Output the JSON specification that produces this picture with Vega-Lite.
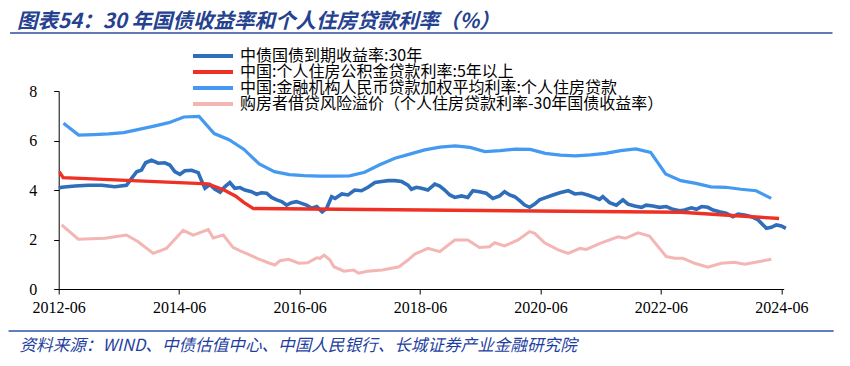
{
  "$schema": "https://vega.github.io/schema/vega-lite/v6.json",
  "width": 725,
  "height": 198,
  "autosize": "none",
  "padding": {"left": 58.7, "top": 91, "right": 66.3, "bottom": 77},
  "background": "white",
  "title": {
    "text": "图表54：30 年国债收益率和个人住房贷款利率（%）",
    "anchor": "start",
    "frame": "group",
    "orient": "top",
    "font": "Noto Sans CJK SC",
    "fontSize": 20.5,
    "fontWeight": "bold",
    "fontStyle": "italic",
    "color": "#25418F",
    "dx": -41.7,
    "offset": 0
  },
  "datasets": {
    "names": [
      {"k": "a", "name": "中债国债到期收益率:30年"},
      {"k": "b", "name": "中国:个人住房公积金贷款利率:5年以上"},
      {"k": "c", "name": "中国:金融机构人民币贷款加权平均利率:个人住房贷款"},
      {"k": "d", "name": "购房者借贷风险溢价（个人住房贷款利率-30年国债收益率）"}
    ],
    "rates": [
      {"k":"a","d":"2012-06-01","v":4.08},{"k":"a","d":"2012-06-19","v":4.11},{"k":"a","d":"2012-09-08","v":4.16},{"k":"a","d":"2012-11-28","v":4.19},
      {"k":"a","d":"2013-02-18","v":4.19},{"k":"a","d":"2013-05-07","v":4.13},{"k":"a","d":"2013-07-17","v":4.19},{"k":"a","d":"2013-08-17","v":4.47},
      {"k":"a","d":"2013-09-17","v":4.74},{"k":"a","d":"2013-10-16","v":4.81},{"k":"a","d":"2013-11-10","v":5.10},{"k":"a","d":"2013-12-16","v":5.20},
      {"k":"a","d":"2014-01-26","v":5.08},{"k":"a","d":"2014-03-06","v":5.10},{"k":"a","d":"2014-04-06","v":5.01},{"k":"a","d":"2014-05-06","v":4.74},
      {"k":"a","d":"2014-06-06","v":4.63},{"k":"a","d":"2014-07-06","v":4.78},{"k":"a","d":"2014-08-16","v":4.80},{"k":"a","d":"2014-09-25","v":4.70},
      {"k":"a","d":"2014-10-15","v":4.38},{"k":"a","d":"2014-11-05","v":4.07},{"k":"a","d":"2014-12-05","v":4.22},{"k":"a","d":"2015-01-05","v":4.03},
      {"k":"a","d":"2015-02-05","v":3.91},{"k":"a","d":"2015-03-05","v":4.13},{"k":"a","d":"2015-04-05","v":4.30},{"k":"a","d":"2015-05-05","v":4.07},
      {"k":"a","d":"2015-06-05","v":4.10},{"k":"a","d":"2015-07-05","v":4.00},{"k":"a","d":"2015-08-14","v":3.93},{"k":"a","d":"2015-09-14","v":3.83},
      {"k":"a","d":"2015-10-14","v":3.89},{"k":"a","d":"2015-11-14","v":3.87},{"k":"a","d":"2015-12-14","v":3.70},{"k":"a","d":"2016-01-14","v":3.60},
      {"k":"a","d":"2016-02-13","v":3.53},{"k":"a","d":"2016-03-14","v":3.39},{"k":"a","d":"2016-04-13","v":3.49},{"k":"a","d":"2016-05-13","v":3.53},
      {"k":"a","d":"2016-06-13","v":3.46},{"k":"a","d":"2016-07-13","v":3.39},{"k":"a","d":"2016-08-13","v":3.26},{"k":"a","d":"2016-09-13","v":3.33},
      {"k":"a","d":"2016-10-16","v":3.12},{"k":"a","d":"2016-11-12","v":3.26},{"k":"a","d":"2016-12-12","v":3.73},{"k":"a","d":"2017-01-02","v":3.66},
      {"k":"a","d":"2017-02-12","v":3.84},{"k":"a","d":"2017-03-22","v":3.80},{"k":"a","d":"2017-05-01","v":4.00},{"k":"a","d":"2017-06-11","v":3.97},
      {"k":"a","d":"2017-07-21","v":4.11},{"k":"a","d":"2017-09-01","v":4.30},{"k":"a","d":"2017-10-11","v":4.34},{"k":"a","d":"2017-11-20","v":4.38},
      {"k":"a","d":"2017-12-31","v":4.38},{"k":"a","d":"2018-02-10","v":4.34},{"k":"a","d":"2018-03-20","v":4.20},{"k":"a","d":"2018-04-10","v":4.03},
      {"k":"a","d":"2018-05-10","v":4.11},{"k":"a","d":"2018-06-10","v":4.07},{"k":"a","d":"2018-07-19","v":4.00},{"k":"a","d":"2018-08-30","v":4.24},
      {"k":"a","d":"2018-09-29","v":4.16},{"k":"a","d":"2018-10-29","v":4.00},{"k":"a","d":"2018-11-29","v":3.80},{"k":"a","d":"2018-12-29","v":3.70},
      {"k":"a","d":"2019-02-08","v":3.76},{"k":"a","d":"2019-03-18","v":3.70},{"k":"a","d":"2019-04-18","v":3.97},{"k":"a","d":"2019-05-28","v":3.93},
      {"k":"a","d":"2019-07-08","v":3.87},{"k":"a","d":"2019-08-17","v":3.66},{"k":"a","d":"2019-09-27","v":3.76},{"k":"a","d":"2019-10-27","v":3.93},
      {"k":"a","d":"2019-11-27","v":3.80},{"k":"a","d":"2019-12-27","v":3.73},{"k":"a","d":"2020-01-27","v":3.57},{"k":"a","d":"2020-02-26","v":3.39},
      {"k":"a","d":"2020-03-27","v":3.30},{"k":"a","d":"2020-04-27","v":3.43},{"k":"a","d":"2020-05-26","v":3.60},{"k":"a","d":"2020-07-06","v":3.70},
      {"k":"a","d":"2020-08-16","v":3.80},{"k":"a","d":"2020-09-26","v":3.89},{"k":"a","d":"2020-11-16","v":3.97},{"k":"a","d":"2020-12-26","v":3.84},
      {"k":"a","d":"2021-02-05","v":3.87},{"k":"a","d":"2021-03-15","v":3.80},{"k":"a","d":"2021-04-25","v":3.70},{"k":"a","d":"2021-05-25","v":3.62},
      {"k":"a","d":"2021-06-14","v":3.73},{"k":"a","d":"2021-07-25","v":3.49},{"k":"a","d":"2021-09-04","v":3.39},{"k":"a","d":"2021-10-14","v":3.60},
      {"k":"a","d":"2021-11-14","v":3.43},{"k":"a","d":"2021-12-24","v":3.35},{"k":"a","d":"2022-02-04","v":3.30},{"k":"a","d":"2022-03-04","v":3.39},
      {"k":"a","d":"2022-04-14","v":3.35},{"k":"a","d":"2022-05-24","v":3.30},{"k":"a","d":"2022-07-04","v":3.33},{"k":"a","d":"2022-08-13","v":3.22},
      {"k":"a","d":"2022-09-23","v":3.16},{"k":"a","d":"2022-10-23","v":3.19},{"k":"a","d":"2022-12-03","v":3.28},{"k":"a","d":"2023-01-03","v":3.22},
      {"k":"a","d":"2023-02-03","v":3.33},{"k":"a","d":"2023-03-13","v":3.30},{"k":"a","d":"2023-04-13","v":3.19},{"k":"a","d":"2023-05-22","v":3.12},
      {"k":"a","d":"2023-07-02","v":3.06},{"k":"a","d":"2023-08-12","v":2.92},{"k":"a","d":"2023-09-12","v":3.03},{"k":"a","d":"2023-10-22","v":2.99},
      {"k":"a","d":"2023-12-02","v":2.92},{"k":"a","d":"2024-01-12","v":2.79},{"k":"a","d":"2024-02-11","v":2.59},{"k":"a","d":"2024-03-02","v":2.45},
      {"k":"a","d":"2024-04-01","v":2.49},{"k":"a","d":"2024-05-01","v":2.59},{"k":"a","d":"2024-06-01","v":2.55},{"k":"a","d":"2024-06-28","v":2.45},

      {"k":"b","d":"2012-06-01","v":4.70},{"k":"b","d":"2012-06-08","v":4.70},{"k":"b","d":"2012-06-28","v":4.50},{"k":"b","d":"2014-11-22","v":4.25},
      {"k":"b","d":"2015-03-01","v":4.00},{"k":"b","d":"2015-05-11","v":3.75},{"k":"b","d":"2015-06-28","v":3.50},{"k":"b","d":"2015-08-26","v":3.25},
      {"k":"b","d":"2022-10-01","v":3.10},{"k":"b","d":"2024-05-18","v":2.85},

      {"k":"c","d":"2012-06-30","v":6.70},{"k":"c","d":"2012-09-30","v":6.22},{"k":"c","d":"2012-12-31","v":6.24},{"k":"c","d":"2013-03-31","v":6.27},
      {"k":"c","d":"2013-06-30","v":6.32},{"k":"c","d":"2013-09-30","v":6.45},{"k":"c","d":"2013-12-31","v":6.58},{"k":"c","d":"2014-03-31","v":6.72},
      {"k":"c","d":"2014-06-30","v":6.95},{"k":"c","d":"2014-09-30","v":6.97},{"k":"c","d":"2014-12-31","v":6.28},{"k":"c","d":"2015-03-31","v":6.03},
      {"k":"c","d":"2015-06-30","v":5.64},{"k":"c","d":"2015-09-30","v":5.05},{"k":"c","d":"2015-12-31","v":4.74},{"k":"c","d":"2016-03-31","v":4.62},
      {"k":"c","d":"2016-06-30","v":4.58},{"k":"c","d":"2016-09-30","v":4.56},{"k":"c","d":"2016-12-31","v":4.56},{"k":"c","d":"2017-03-31","v":4.57},
      {"k":"c","d":"2017-06-30","v":4.72},{"k":"c","d":"2017-09-30","v":5.02},{"k":"c","d":"2017-12-31","v":5.28},{"k":"c","d":"2018-03-31","v":5.45},
      {"k":"c","d":"2018-06-30","v":5.62},{"k":"c","d":"2018-09-30","v":5.73},{"k":"c","d":"2018-12-31","v":5.78},{"k":"c","d":"2019-03-31","v":5.72},
      {"k":"c","d":"2019-06-30","v":5.55},{"k":"c","d":"2019-09-30","v":5.59},{"k":"c","d":"2019-12-31","v":5.65},{"k":"c","d":"2020-03-31","v":5.64},
      {"k":"c","d":"2020-06-30","v":5.48},{"k":"c","d":"2020-09-30","v":5.41},{"k":"c","d":"2020-12-31","v":5.38},{"k":"c","d":"2021-03-31","v":5.42},
      {"k":"c","d":"2021-06-30","v":5.48},{"k":"c","d":"2021-09-30","v":5.59},{"k":"c","d":"2021-12-31","v":5.66},{"k":"c","d":"2022-03-31","v":5.52},
      {"k":"c","d":"2022-06-30","v":4.65},{"k":"c","d":"2022-09-30","v":4.38},{"k":"c","d":"2022-12-31","v":4.27},{"k":"c","d":"2023-03-31","v":4.13},
      {"k":"c","d":"2023-06-30","v":4.11},{"k":"c","d":"2023-09-30","v":4.03},{"k":"c","d":"2023-12-31","v":3.97},{"k":"c","d":"2024-03-31","v":3.66},

      {"k":"d","d":"2012-06-19","v":2.59},{"k":"d","d":"2012-09-28","v":2.01},{"k":"d","d":"2013-03-08","v":2.05},{"k":"d","d":"2013-07-17","v":2.18},
      {"k":"d","d":"2013-09-26","v":1.91},{"k":"d","d":"2013-12-26","v":1.44},{"k":"d","d":"2014-03-16","v":1.64},{"k":"d","d":"2014-06-26","v":2.37},
      {"k":"d","d":"2014-08-26","v":2.18},{"k":"d","d":"2014-11-25","v":2.40},{"k":"d","d":"2014-12-25","v":2.06},{"k":"d","d":"2015-02-24","v":2.18},
      {"k":"d","d":"2015-04-24","v":1.68},{"k":"d","d":"2015-06-04","v":1.55},{"k":"d","d":"2015-07-24","v":1.41},{"k":"d","d":"2015-09-24","v":1.22},
      {"k":"d","d":"2015-11-24","v":1.06},{"k":"d","d":"2016-01-03","v":0.97},{"k":"d","d":"2016-02-03","v":1.14},{"k":"d","d":"2016-03-27","v":1.20},
      {"k":"d","d":"2016-05-27","v":1.04},{"k":"d","d":"2016-07-20","v":1.06},{"k":"d","d":"2016-09-13","v":1.26},{"k":"d","d":"2016-10-02","v":1.24},
      {"k":"d","d":"2016-10-28","v":1.37},{"k":"d","d":"2016-12-02","v":1.17},{"k":"d","d":"2016-12-26","v":0.90},{"k":"d","d":"2017-02-25","v":0.72},
      {"k":"d","d":"2017-04-25","v":0.77},{"k":"d","d":"2017-05-24","v":0.64},{"k":"d","d":"2017-07-16","v":0.72},{"k":"d","d":"2017-10-16","v":0.77},
      {"k":"d","d":"2018-01-25","v":0.90},{"k":"d","d":"2018-03-20","v":1.17},{"k":"d","d":"2018-05-01","v":1.41},{"k":"d","d":"2018-07-19","v":1.64},
      {"k":"d","d":"2018-09-29","v":1.51},{"k":"d","d":"2018-12-29","v":1.98},{"k":"d","d":"2019-03-18","v":1.98},{"k":"d","d":"2019-05-28","v":1.68},
      {"k":"d","d":"2019-07-28","v":1.71},{"k":"d","d":"2019-08-28","v":1.87},{"k":"d","d":"2019-10-27","v":1.74},{"k":"d","d":"2020-01-17","v":1.98},
      {"k":"d","d":"2020-03-27","v":2.32},{"k":"d","d":"2020-04-27","v":2.25},{"k":"d","d":"2020-06-26","v":1.87},{"k":"d","d":"2020-09-16","v":1.58},
      {"k":"d","d":"2020-11-16","v":1.44},{"k":"d","d":"2021-01-26","v":1.64},{"k":"d","d":"2021-03-06","v":1.60},{"k":"d","d":"2021-06-01","v":1.85},
      {"k":"d","d":"2021-09-14","v":2.11},{"k":"d","d":"2021-10-29","v":2.05},{"k":"d","d":"2022-01-14","v":2.27},{"k":"d","d":"2022-03-24","v":2.14},
      {"k":"d","d":"2022-07-04","v":1.31},{"k":"d","d":"2022-08-24","v":1.24},{"k":"d","d":"2022-10-13","v":1.24},{"k":"d","d":"2022-12-23","v":1.04},
      {"k":"d","d":"2023-03-13","v":0.88},{"k":"d","d":"2023-06-02","v":1.04},{"k":"d","d":"2023-08-22","v":1.08},{"k":"d","d":"2023-10-22","v":1.00},
      {"k":"d","d":"2024-01-12","v":1.10},{"k":"d","d":"2024-04-01","v":1.20}
    ]
  },
  "layer": [
    {
      "data": {"name": "rates"},
      "transform": [
        {"lookup": "k", "from": {"data": {"name": "names"}, "key": "k", "fields": ["name"]}}
      ],
      "mark": {"type": "line", "interpolate": "linear"},
      "encoding": {
        "x": {
          "field": "d",
          "type": "temporal",
          "scale": {"type": "utc", "domain": [{"year": 2012, "month": 6, "date": 1, "utc": true}, {"year": 2024, "month": 6, "date": 15, "utc": true}]},
          "axis": {
            "values": [
              {"year": 2012, "month": 6, "date": 1, "utc": true},
              {"year": 2014, "month": 6, "date": 1, "utc": true},
              {"year": 2016, "month": 6, "date": 1, "utc": true},
              {"year": 2018, "month": 6, "date": 1, "utc": true},
              {"year": 2020, "month": 6, "date": 1, "utc": true},
              {"year": 2022, "month": 6, "date": 1, "utc": true},
              {"year": 2024, "month": 6, "date": 1, "utc": true}
            ],
            "labelExpr": "utcFormat(datum.value, '%Y-%m')",
            "grid": false,
            "domainColor": "#000000",
            "tickColor": "#000000",
            "tickSize": 5,
            "labelFont": "Liberation Serif",
            "labelFontSize": 16,
            "labelColor": "#000000",
            "labelPadding": 5,
            "labelOverlap": false,
            "labelFlush": false,
            "title": "资料来源：WIND、中债估值中心、中国人民银行、长城证券产业金融研究院",
            "titleFont": "Noto Sans CJK SC",
            "titleFontSize": 16.6,
            "titleFontStyle": "italic",
            "titleFontWeight": "normal",
            "titleColor": "#1F3F9F",
            "titleAlign": "left",
            "titleAnchor": "start",
            "titleBaseline": "middle",
            "titleX": -39.7,
            "titleY": 56
          }
        },
        "y": {
          "field": "v",
          "type": "quantitative",
          "scale": {"domain": [0, 8], "nice": false, "zero": false},
          "axis": {
            "values": [0, 2, 4, 6, 8],
            "grid": false,
            "title": null,
            "domainColor": "#000000",
            "tickColor": "#000000",
            "tickSize": 5,
            "labelFont": "Liberation Serif",
            "labelFontSize": 16,
            "labelColor": "#000000",
            "labelPadding": 17
          }
        },
        "strokeWidth": {
          "field": "k",
          "type": "nominal",
          "scale": {"domain": ["a", "b", "c", "d"], "range": [3.6, 3, 3, 3]},
          "legend": null
        },
        "color": {
          "field": "name",
          "type": "nominal",
          "scale": {
            "domain": ["中债国债到期收益率:30年", "中国:个人住房公积金贷款利率:5年以上", "中国:金融机构人民币贷款加权平均利率:个人住房贷款", "购房者借贷风险溢价（个人住房贷款利率-30年国债收益率）"],
            "range": ["#2F6EBA", "#EE3124", "#4499F0", "#F4B6B4"]
          },
          "legend": {
            "title": null,
            "orient": "none",
            "legendX": 132.3,
            "legendY": -42.5,
            "padding": 0,
            "symbolType": "stroke",
            "symbolSize": 1600,
            "symbolStrokeWidth": 4,
            "clipHeight": 14.75,
            "labelFont": "Noto Sans CJK SC",
            "labelFontSize": 16,
            "labelColor": "#000000",
            "labelOffset": 5,
            "labelLimit": 600,
            "rowPadding": -1.25
          }
        }
      }
    },
    {
      "data": {"values": [{}]},
      "mark": {"type": "rule", "color": "#2D4E9E", "strokeWidth": 1.5},
      "encoding": {
        "x": {"datum": {"year": 2011, "month": 8, "date": 11, "utc": true}, "type": "temporal"},
        "x2": {"datum": {"year": 2025, "month": 4, "date": 7, "utc": true}},
        "y": {"datum": 10.34, "type": "quantitative"}
      }
    },
    {
      "data": {"values": [{}]},
      "mark": {"type": "rule", "color": "#5F7FBF", "strokeWidth": 2},
      "encoding": {
        "x": {"datum": {"year": 2011, "month": 8, "date": 2, "utc": true}, "type": "temporal"},
        "x2": {"datum": {"year": 2025, "month": 4, "date": 14, "utc": true}},
        "y": {"datum": -1.70, "type": "quantitative"}
      }
    }
  ],
  "config": {
    "view": {"stroke": null},
    "font": "Noto Sans CJK SC"
  }
}
